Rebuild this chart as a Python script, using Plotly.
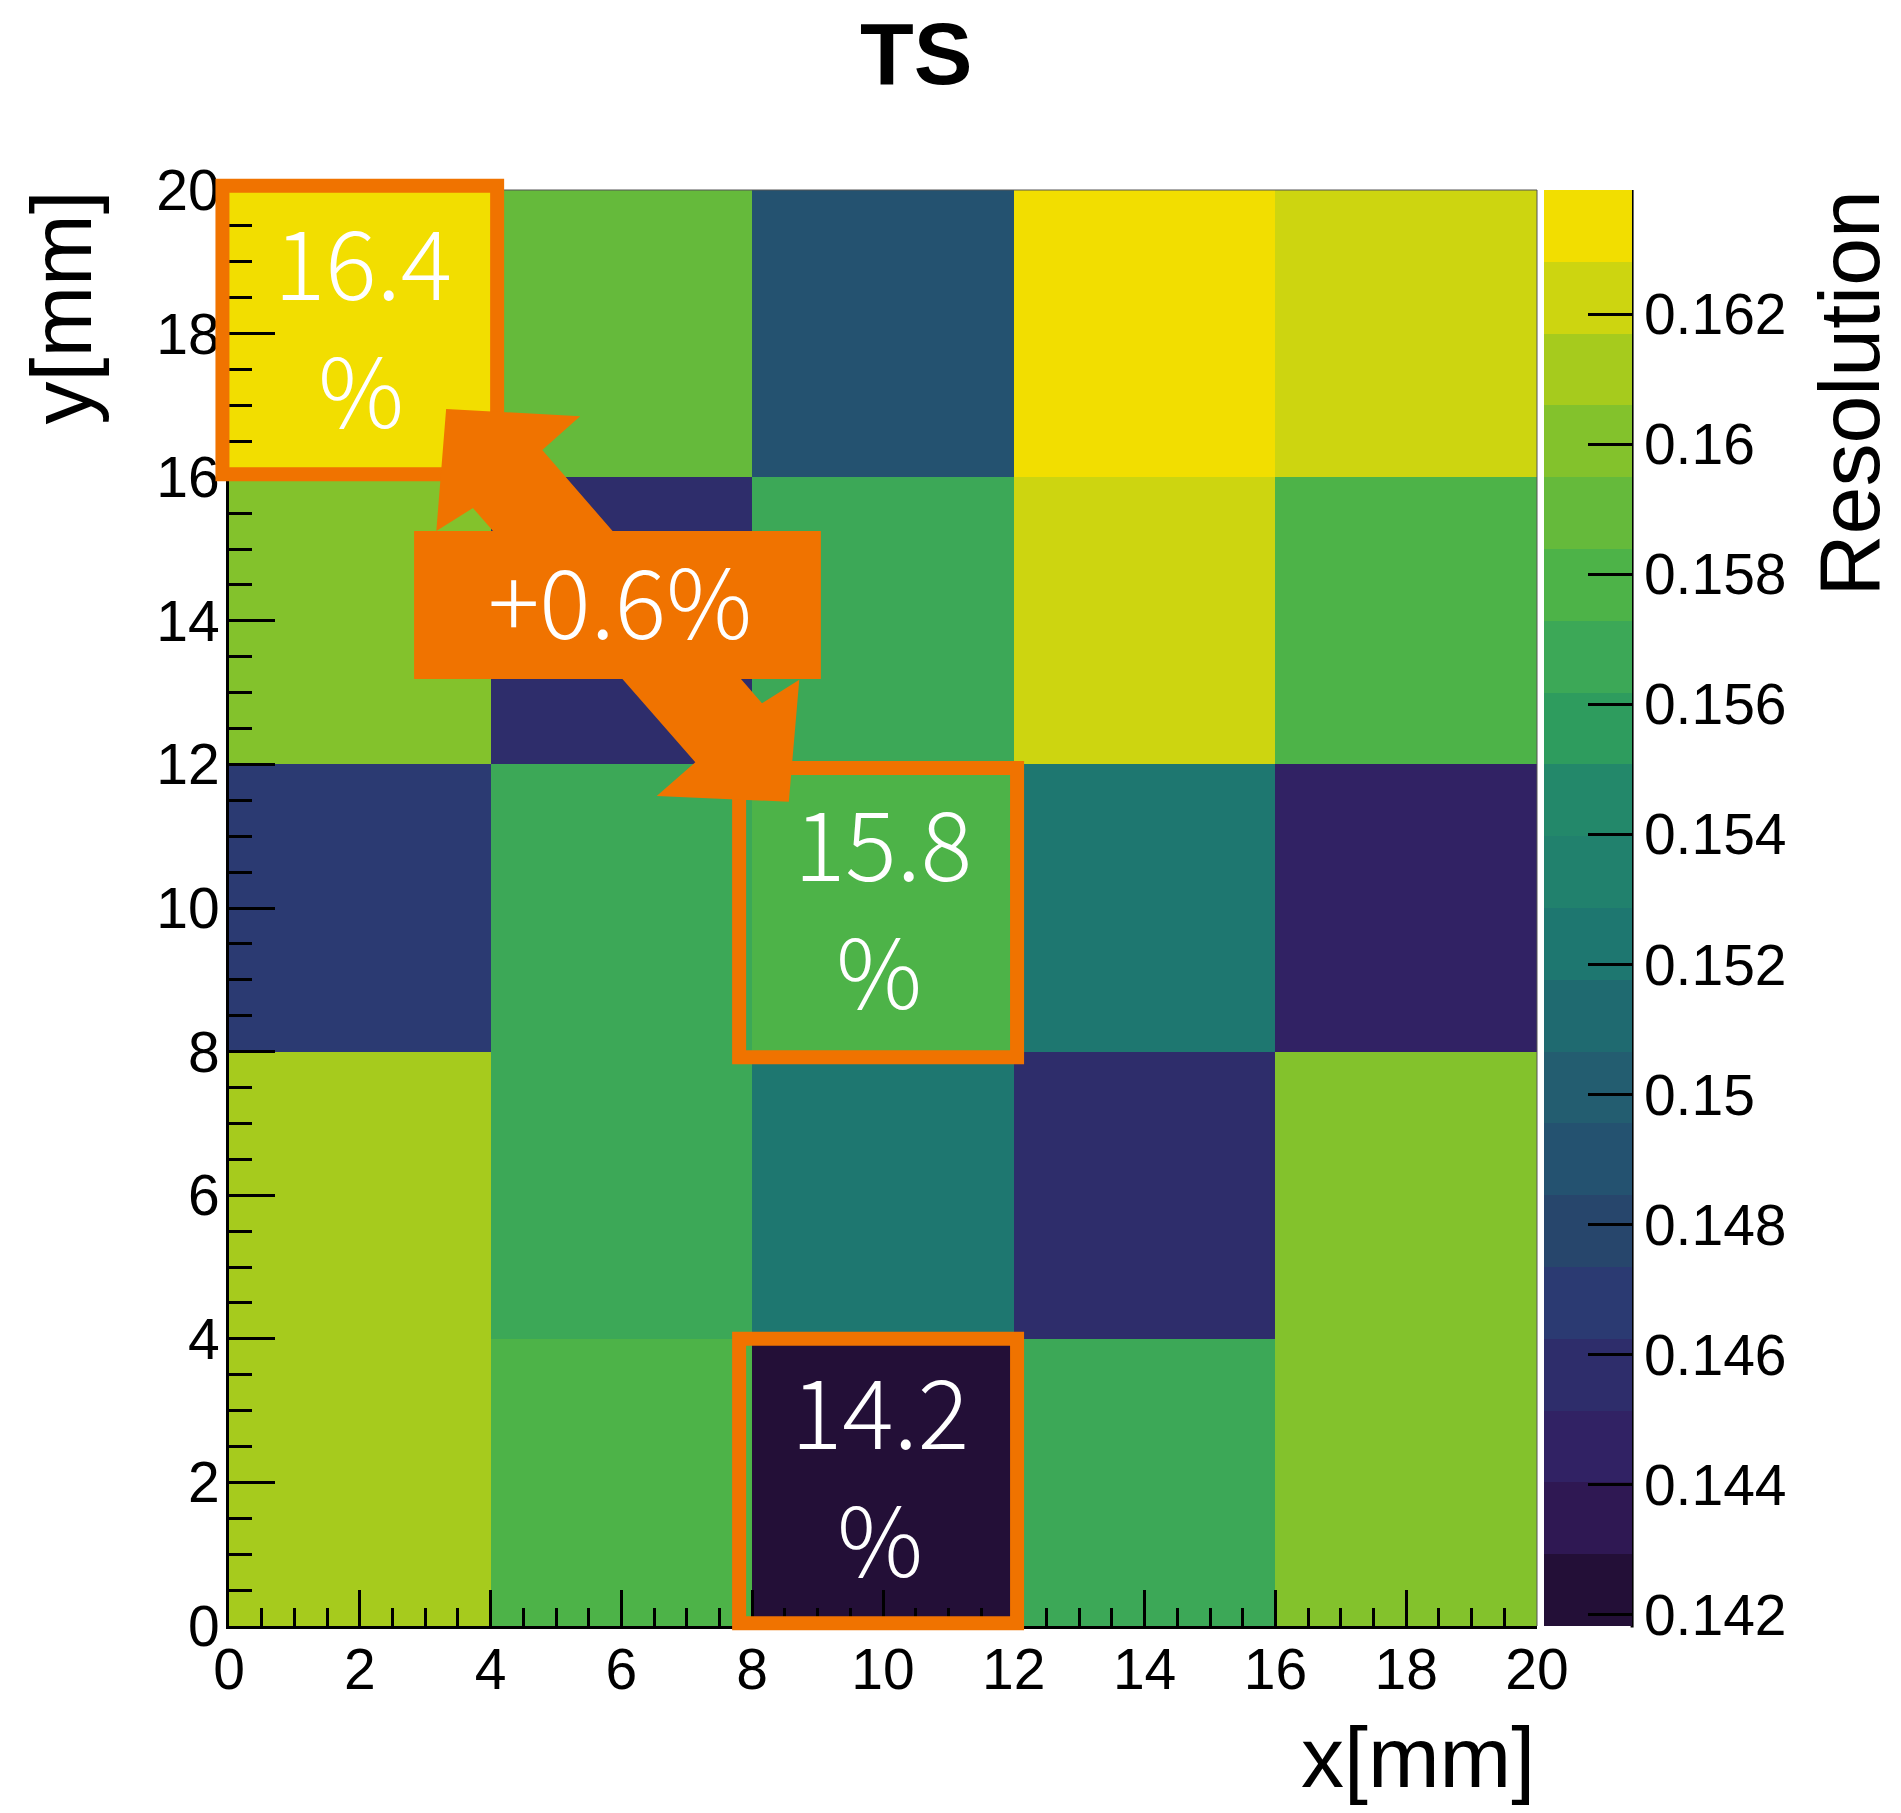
import plotly.graph_objects as go

# ---------------- data ----------------
x_centers = [2, 6, 10, 14, 18]          # x [mm] bin centres (bin width 4 mm)
y_centers = [2, 6, 10, 14, 18]          # y [mm] bin centres
resolution = [                          # rows: y = 0-4, 4-8, 8-12, 12-16, 16-20
    [0.1611, 0.1578, 0.14183, 0.1567, 0.1600],
    [0.1611, 0.1567, 0.1523, 0.1457, 0.1600],
    [0.1468, 0.1567, 0.1580, 0.1523, 0.1446],
    [0.1600, 0.1457, 0.1567, 0.1622, 0.1578],
    [0.16391, 0.1589, 0.1490, 0.1634, 0.1622],
]
z_min = 0.14183
z_max = 0.16391
band_colors = [   # 20 contour levels (bottom -> top)
    "#230F37", "#2F1853", "#312264", "#2E2D6B", "#2B3A72",
    "#27466C", "#245270", "#235D70", "#1F6A70", "#1E7770",
    "#21816D", "#23886A", "#2E9C5E", "#3CA857", "#4DB348",
    "#65BA3B", "#83C22C", "#A6CB1D", "#CDD510", "#F2DE00",
]
cbar_ticks = [0.142, 0.144, 0.146, 0.148, 0.150, 0.152, 0.154, 0.156, 0.158, 0.160, 0.162]
cbar_labels = ["0.142", "0.144", "0.146", "0.148", "0.15", "0.152", "0.154",
               "0.156", "0.158", "0.16", "0.162"]

ORANGE = "#F07300"
TICK_FONT = dict(family="Liberation Sans, Arial, sans-serif", size=57, color="black")
ANN_FONT = dict(family="Noto Sans CJK JP, Noto Sans, sans-serif", size=96, color="white", weight=300)

n = len(band_colors)
colorscale = []
for i, c in enumerate(band_colors):
    colorscale.append([i / n, c])
    colorscale.append([(i + 1) / n, c])

fig = go.Figure(go.Heatmap(
    x=x_centers, y=y_centers, z=resolution,
    zmin=z_min, zmax=z_max, colorscale=colorscale,
    hoverinfo="skip",
    colorbar=dict(
        x=1.00535, xanchor="left", y=0.5, yanchor="middle",
        thickness=88, thicknessmode="pixels", len=1, lenmode="fraction",
        xpad=0, ypad=0, outlinewidth=0,
        tickmode="array", tickvals=cbar_ticks, ticktext=cbar_labels,
        ticks="inside", ticklen=44, tickwidth=3, tickcolor="black",
        tickfont=TICK_FONT,
    ),
))

axis_common = dict(
    range=[0, 20], tick0=0, dtick=2, ticks="inside", tickwidth=3, tickcolor="black",
    showline=True, linecolor="black", linewidth=3, showgrid=False, zeroline=False,
    tickfont=TICK_FONT,
)
fig.update_layout(
    width=1901, height=1813,
    margin=dict(l=229, r=364, t=190, b=187),
    paper_bgcolor="white", plot_bgcolor="white",
    xaxis=dict(**axis_common, ticklen=36, ticklabelstandoff=-8,
               minor=dict(dtick=0.5, tick0=0, ticks="inside", ticklen=18, tickwidth=3, tickcolor="black")),
    yaxis=dict(**axis_common, ticklen=46, ticklabelstandoff=-5,
               minor=dict(dtick=0.5, tick0=0, ticks="inside", ticklen=23, tickwidth=3, tickcolor="black")),
)


def pxp(v):  # mm -> paper fraction (axes span 0..20 mm over the full domain)
    return v / 20.0


shapes = []
# thin frame on top / right
shapes.append(dict(type="line", xref="paper", yref="paper", x0=0, x1=1, y0=1, y1=1,
                   line=dict(color="#555555", width=1)))
shapes.append(dict(type="line", xref="paper", yref="paper", x0=1, x1=1, y0=0, y1=1,
                   line=dict(color="#555555", width=1)))
# colorbar axis line on the right side of the bar
shapes.append(dict(type="line", xref="paper", yref="paper", x0=1.0727, x1=1.0727, y0=-0.001, y1=1.0,
                   line=dict(color="black", width=3)))

# highlight boxes
for (bx0, bx1, by0, by1) in [(-0.1, 4.1, 16.04, 20.06), (7.8, 12.05, 7.92, 11.95), (7.8, 12.05, 0.04, 4.0)]:
    shapes.append(dict(type="rect", xref="paper", yref="paper",
                       x0=pxp(bx0), x1=pxp(bx1), y0=pxp(by0), y1=pxp(by1),
                       line=dict(color=ORANGE, width=14), fillcolor="rgba(0,0,0,0)"))

# double-headed arrow
arrow_pts = [(3.32, 16.95), (5.37, 16.85), (4.79, 16.38), (8.15, 12.85), (8.72, 13.18),
             (8.56, 11.48), (6.54, 11.56), (7.13, 12.03), (3.73, 15.57), (3.17, 15.25)]
path = "M " + " L ".join(f"{pxp(a):.5f},{pxp(b):.5f}" for a, b in arrow_pts) + " Z"
shapes.append(dict(type="path", xref="paper", yref="paper", path=path,
                   fillcolor=ORANGE, line=dict(color=ORANGE, width=0)))
# label box
shapes.append(dict(type="rect", xref="paper", yref="paper",
                   x0=pxp(2.83), x1=pxp(9.05), y0=pxp(13.19), y1=pxp(15.25),
                   fillcolor=ORANGE, line=dict(color=ORANGE, width=0)))
fig.update_layout(shapes=shapes)

ann = []
for (txt, ax, ay) in [("16.4", 2.05, 19.04), ("%", 2.02, 17.27),
                      ("15.8", 10.0, 10.95), ("%", 9.94, 9.17),
                      ("14.2", 9.95, 3.04), ("%", 9.95, 1.26),
                      ("+0.6%", 5.98, 14.33)]:
    ann.append(dict(text=txt, xref="paper", yref="paper", x=pxp(ax), y=pxp(ay),
                    xanchor="center", yanchor="middle", showarrow=False, font=ANN_FONT))

TITLE_FONT = dict(family="Liberation Sans, Arial, sans-serif", size=86, color="black")
ann.append(dict(text="<b>TS</b>", xref="paper", yref="paper", x=0.525, y=1.0954,
                xanchor="center", yanchor="middle", showarrow=False,
                font=dict(family="Liberation Sans, Arial, sans-serif", size=88, color="black")))
ann.append(dict(text="x[mm]", xref="paper", yref="paper", x=1.0, y=-0.0915,
                xanchor="right", yanchor="middle", showarrow=False, font=TITLE_FONT))
ann.append(dict(text="y[mm]", xref="paper", yref="paper", x=-0.1285, y=1.001,
                xanchor="center", yanchor="top", textangle=-90, showarrow=False, font=TITLE_FONT))
ann.append(dict(text="Resolution", xref="paper", yref="paper", x=1.2385, y=1.001,
                xanchor="center", yanchor="top", textangle=-90, showarrow=False, font=TITLE_FONT))
fig.update_layout(annotations=ann)

fig.write_html("out.html")
